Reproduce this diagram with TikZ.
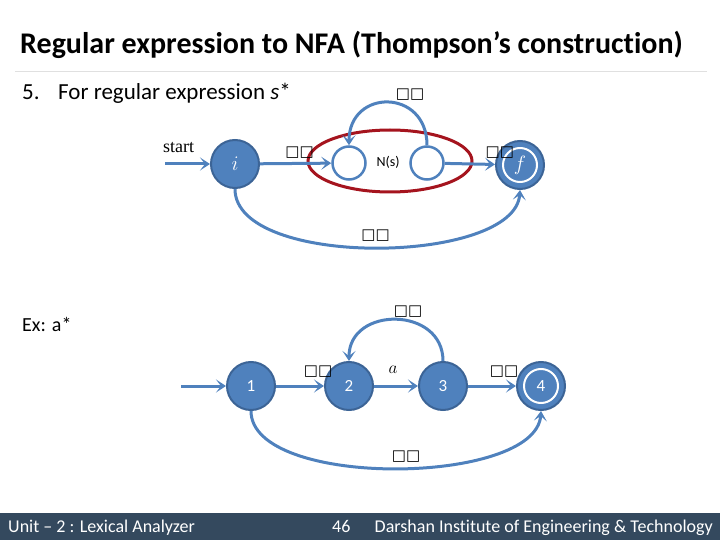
\documentclass[tikz,border=0pt]{standalone}
\usepackage{fontspec}
\setmainfont{Carlito}[Ligatures=NoCommon]
\newfontfamily\boxfont{DejaVu Sans}
\newfontfamily\serifont{Liberation Serif}
\usetikzlibrary{arrows.meta, positioning, shapes.geometric}

\definecolor{nfablue}{RGB}{79,129,189}
\definecolor{nfadark}{RGB}{60,100,150}
\definecolor{nsred}{RGB}{165,20,30}
\definecolor{footbar}{RGB}{52,73,94}
\newcommand{\epsbox}{{\boxfont □□}}

\begin{document}
\begin{tikzpicture}[
  x=1pt, y=-1pt,
  node distance=47pt,
  state/.style={
    circle, draw=nfadark, line width=2pt, fill=nfablue,
    minimum size=48pt, inner sep=0pt,
    text=white, font=\fontsize{17}{17}\selectfont
  },
  accept/.style={
    state,
    path picture={\draw[white, line width=2pt]
      (path picture bounding box.center) circle (17pt);}
  },
  inner/.style={
    ellipse, draw=nfablue, line width=2.5pt,
    minimum width=33pt, minimum height=33pt, inner sep=0pt
  },
  lbl/.style={font=\fontsize{15}{15}\boxfont, inner sep=1pt},
  txt/.style={anchor=base west, inner sep=0pt},
  arr/.style={-{Stealth[length=10pt, width=13pt, inset=5pt]}, line width=3pt, draw=nfablue}
]
  \useasboundingbox (0,0) rectangle (720,540);

  % heading
  \node[txt, font=\fontsize{30}{30}\selectfont\bfseries] (title) at (20,54)
    {Regular expression to NFA (Thompson’s construction)};
  \draw[black!12, line width=1pt] (15,72) -- (707,72);
  \node[txt, font=\fontsize{23}{23}\selectfont] (num) at (22,100) {5.};
  \node[txt, font=\fontsize{23}{23}\selectfont] (rule) at (58,100)
    {For regular expression \textit{s}*};

  % s* construction
  \node[state, font=\fontsize{21}{21}\selectfont] (i) at (235,164) {$i$};
  \node[inner] (nl) at (349,163) {};
  \node[inner] (nr) at (427,163) {};
  \node[accept, font=\fontsize{21}{21}\selectfont] (f) at (520,165) {$f$};
  \node[ellipse, draw=nsred, line width=3pt, minimum width=164pt,
    minimum height=62pt] (ns) at (390,161) {};
  \node[font=\fontsize{14}{14}\selectfont] (nstxt) at (388,162) {N(s)};
  \coordinate (st) at (165,164);
  \node[txt, font=\fontsize{18}{18}\serifont] (start) at (163,153) {start};

  \draw[arr] (st) -- (i);
  \draw[arr] (i) -- node[lbl, above, xshift=4pt, yshift=3pt] (e1) {\epsbox} (nl);
  \draw[arr] (nr) -- node[lbl, above, xshift=30pt, yshift=3pt] (e2) {\epsbox} (f);
  \draw[arr] (nr.north) .. controls +(0,-57) and +(0,-57) ..
    node[lbl, above, xshift=22pt] (e3) {\epsbox} (nl.north);
  \draw[arr] (i.south) .. controls +(0,80) and +(-5,75) ..
    node[lbl, above, yshift=4pt] (e4) {\epsbox} (f.south);

  % example a*
  \node[txt, font=\fontsize{20}{20}\selectfont] (ex) at (22,331) {Ex: a*};
  \node[state] (n1) at (251,386) {1};
  \node[state, right=48pt of n1] (n2) {2};
  \node[state, right=44pt of n2] (n3) {3};
  \node[accept, right=48pt of n3] (n4) {4};
  \coordinate (st2) at (181,386);

  \draw[arr] (st2) -- (n1);
  \draw[arr] (n1) -- node[lbl, above, xshift=18pt, yshift=6pt] (e5) {\epsbox} (n2);
  \draw[arr] (n2) -- node[above, xshift=-3pt, yshift=8pt, font=\fontsize{19}{19}\selectfont] (ea) {$a$} (n3);
  \draw[arr] (n3) -- node[lbl, above, xshift=12pt, yshift=6pt] (e6) {\epsbox} (n4);
  \draw[arr] (n3.north) .. controls +(0,-55) and +(0,-55) ..
    node[lbl, above, xshift=12pt] (e7) {\epsbox} (n2.north);
  \draw[arr] (n1.south) .. controls +(0,78) and +(-5,75) ..
    node[lbl, above, xshift=12pt, yshift=4pt] (e8) {\epsbox} (n4.south);

  % footer
  \fill[footbar] (0,513) rectangle (720,540);
  \node[txt, text=white, font=\fontsize{18}{18}\selectfont] (unit) at (8,532)
    {Unit – 2 : Lexical Analyzer};
  \node[txt, text=white, font=\fontsize{18}{18}\selectfont] (page) at (332,532) {46};
  \node[txt, anchor=base east, text=white, font=\fontsize{18}{18}\selectfont] (inst)
    at (713,532) {Darshan Institute of Engineering \& Technology};
\end{tikzpicture}
\end{document}
